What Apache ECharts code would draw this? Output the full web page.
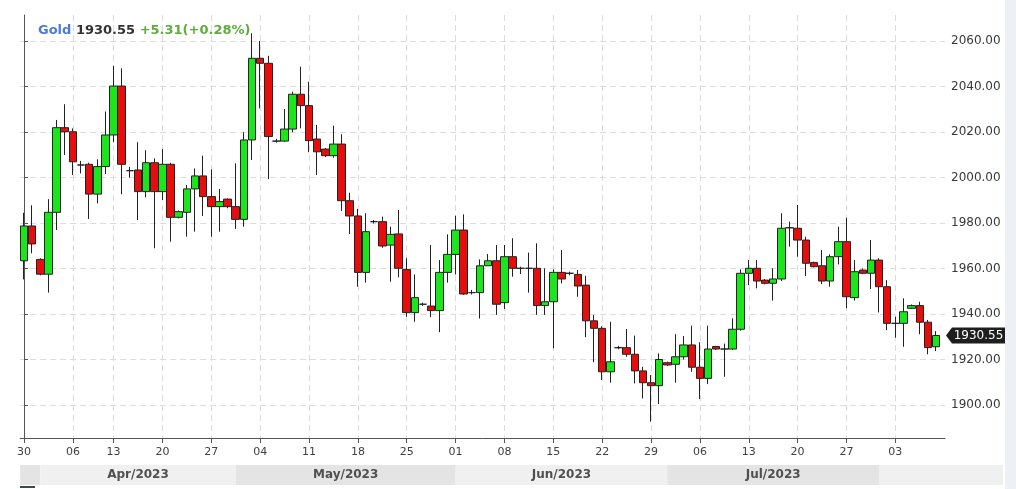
<!DOCTYPE html>
<html><head><meta charset="utf-8">
<script src="https://cdn.jsdelivr.net/npm/echarts@6/dist/echarts.min.js"></script>
<style>html,body{margin:0;padding:0;background:#fff}#c{width:1016px;height:489px}</style>
</head><body><div id="c"></div>
<script>
const symbol = 'Gold';
const dates = [
'2023-03-30','2023-03-31',
'2023-04-02','2023-04-03','2023-04-04','2023-04-05','2023-04-06','2023-04-07',
'2023-04-10','2023-04-11','2023-04-12','2023-04-13','2023-04-14',
'2023-04-16','2023-04-17','2023-04-18','2023-04-19','2023-04-20','2023-04-21',
'2023-04-23','2023-04-24','2023-04-25','2023-04-26','2023-04-27','2023-04-28',
'2023-04-30',
'2023-05-01','2023-05-02','2023-05-03','2023-05-04','2023-05-05',
'2023-05-07','2023-05-08','2023-05-09','2023-05-10','2023-05-11','2023-05-12',
'2023-05-14','2023-05-15','2023-05-16','2023-05-17','2023-05-18','2023-05-19',
'2023-05-21','2023-05-22','2023-05-23','2023-05-24','2023-05-25','2023-05-26',
'2023-05-28','2023-05-29','2023-05-30','2023-05-31',
'2023-06-01','2023-06-02',
'2023-06-04','2023-06-05','2023-06-06','2023-06-07','2023-06-08','2023-06-09',
'2023-06-11','2023-06-12','2023-06-13','2023-06-14','2023-06-15','2023-06-16',
'2023-06-18','2023-06-19','2023-06-20','2023-06-21','2023-06-22','2023-06-23',
'2023-06-25','2023-06-26','2023-06-27','2023-06-28','2023-06-29','2023-06-30',
'2023-07-02','2023-07-03','2023-07-04','2023-07-05','2023-07-06','2023-07-07',
'2023-07-09','2023-07-10','2023-07-11','2023-07-12','2023-07-13','2023-07-14',
'2023-07-16','2023-07-17','2023-07-18','2023-07-19','2023-07-20','2023-07-21',
'2023-07-23','2023-07-24','2023-07-25','2023-07-26','2023-07-27','2023-07-28',
'2023-07-30','2023-07-31',
'2023-08-01','2023-08-02','2023-08-03','2023-08-04',
'2023-08-06','2023-08-07','2023-08-08','2023-08-09'
];
const opens = [
1963.4,1978.7,
1964.0,1957.5,1984.7,2021.9,2020.1,2005.5,
2005.8,1992.7,2004.8,2018.7,2040.2,
2003.0,2003.3,1993.8,2006.5,1993.8,2005.8,
1982.5,1984.7,1995.0,2000.7,1991.6,1987.2,
1990.5,
1987.2,1981.6,2016.5,2052.4,2050.2,
2016.0,2016.0,2021.3,2036.6,2031.6,2016.9,
2012.5,2009.6,2014.7,1989.8,1983.1,1958.3,
1980.6,1980.6,1970.3,1975.2,1959.6,1940.6,
1944.3,1943.5,1941.5,1958.3,
1966.2,1976.9,
1949.4,1949.4,1961.2,1963.4,1945.0,1965.2,
1960.1,1960.1,1960.1,1943.7,1945.4,1958.3,
1957.9,1957.4,1952.7,1937.0,1933.7,1914.6,
1925.2,1925.2,1922.3,1915.0,1909.8,1908.5,
1918.6,1917.9,1921.2,1926.4,1916.6,1911.7,
1925.7,1924.6,1924.6,1933.3,1957.9,1960.1,
1954.9,1953.5,1955.4,1977.9,1977.7,1972.5,
1962.6,1961.2,1954.5,1965.2,1971.8,1947.2,
1959.3,1957.9,
1963.7,1952.0,1935.9,1935.9,
1942.5,1943.7,1936.4,1925.6
];
const closes = [
1978.7,1970.8,
1957.5,1984.7,2021.9,2020.1,2006.9,2005.5,
1992.7,2004.8,2018.7,2040.2,2005.8,
2003.0,1993.8,2006.5,1993.8,2005.8,1982.5,
1985.0,1995.0,2000.7,1991.6,1987.2,1989.4,
1987.2,
1981.6,2016.5,2052.4,2050.2,2018.0,
2016.0,2021.3,2036.6,2031.6,2016.2,2011.3,
2009.6,2014.7,1989.8,1983.1,1958.3,1976.2,
1980.6,1969.9,1975.0,1960.1,1940.6,1947.2,
1944.3,1941.5,1958.3,1966.2,
1976.9,1948.8,
1949.4,1961.2,1963.4,1944.3,1965.2,1960.1,
1960.1,1960.1,1943.7,1945.4,1958.3,1955.4,
1957.9,1952.3,1937.0,1933.7,1914.6,1919.0,
1925.2,1922.3,1915.0,1909.8,1908.5,1920.0,
1917.6,1921.2,1926.4,1916.6,1911.7,1924.6,
1924.6,1924.6,1933.3,1957.9,1960.1,1954.5,
1953.5,1955.4,1977.7,1977.9,1972.5,1962.3,
1960.8,1954.5,1965.2,1971.8,1947.6,1958.6,
1957.9,1963.7,
1952.0,1935.9,1935.9,1941.0,
1943.7,1936.4,1925.24,1930.55
];
const lows = [
1955.2,1966.7,
1957.0,1949.4,1976.9,2009.9,2001.1,2001.8,
1981.8,1988.7,2001.5,2015.5,1992.6,
1999.9,1981.3,1991.3,1968.9,1990.1,1971.8,
1982.0,1974.0,1976.2,1983.1,1974.0,1976.2,
1986.5,
1977.4,1978.4,2007.7,2030.4,1999.3,
2015.3,2015.7,2019.9,2021.6,2011.1,2001.1,
2009.0,2008.7,1985.3,1975.2,1952.0,1953.8,
1979.8,1969.1,1954.2,1956.1,1938.8,1936.6,
1943.6,1938.6,1932.0,1953.8,
1957.4,1948.4,
1948.6,1938.0,1961.2,1939.6,1942.2,1956.4,
1957.6,1949.4,1939.6,1939.6,1924.9,1953.5,
1957.0,1947.6,1929.8,1918.8,1911.0,1909.8,
1924.5,1921.2,1909.5,1902.9,1892.7,1900.4,
1917.2,1909.8,1920.0,1914.6,1902.6,1909.2,
1924.2,1912.4,1924.2,1932.7,1952.7,1951.3,
1953.0,1945.9,1954.5,1969.6,1965.2,1956.7,
1960.5,1953.2,1952.0,1961.8,1942.5,1945.9,
1957.5,1951.0,
1940.7,1932.9,1929.6,1925.6,
1942.2,1931.1,1922.3,1923.7
];
const highs = [
1984.5,1987.8,
1964.5,1990.5,2025.3,2032.2,2021.6,2007.3,
2006.5,2008.0,2029.0,2049.1,2048.0,
2004.7,2015.5,2012.0,2008.4,2012.5,2006.5,
1985.5,1996.7,2004.0,2009.6,2003.6,1995.0,
1990.8,
2006.2,2019.9,2063.4,2060.0,2053.5,
2017.0,2030.1,2037.7,2048.7,2042.1,2023.1,
2013.0,2022.8,2019.0,1993.3,1986.2,1984.3,
1981.3,1982.8,1978.4,1985.7,1964.5,1957.4,
1945.0,1970.3,1963.7,1975.0,
1983.2,1983.8,
1950.6,1964.0,1966.4,1970.3,1970.3,1973.3,
1960.8,1967.0,1971.1,1960.1,1959.6,1968.1,
1958.6,1959.3,1956.8,1939.6,1934.6,1936.6,
1926.0,1933.4,1930.5,1916.8,1913.2,1922.7,
1919.0,1931.1,1930.3,1934.9,1927.6,1934.9,
1926.0,1927.0,1938.1,1959.6,1963.7,1963.7,
1955.4,1960.1,1984.3,1980.6,1987.9,1974.0,
1963.0,1968.1,1966.2,1978.4,1982.3,1963.7,
1960.0,1972.5,
1964.5,1954.9,1938.8,1946.9,
1944.2,1945.4,1937.4,1932.5
];
const priceTicks = [1900,1920,1940,1960,1980,2000,2020,2040,2060];
const monthNames = ['Jan','Feb','Mar','Apr','May','Jun','Jul','Aug','Sep','Oct','Nov','Dec'];

const FONT = 'DejaVu Sans';
const n = dates.length;
const candles = dates.map((d, i) => [i, opens[i], closes[i], lows[i], highs[i]]);
const tickIdx = [];
dates.forEach((d, i) => { if (new Date(d + 'T00:00:00Z').getUTCDay() === 4) tickIdx.push(i); });
const lastClose = closes[n - 1];
const prevClose = closes[n - 2];
const chg = lastClose - prevClose;
const pct = chg / prevClose * 100;
const sign = chg >= 0 ? '+' : '-';

const chart = echarts.init(document.getElementById('c'), null, {renderer: 'canvas'});
const gridLeft = 20.2, gridRight = 71, gridTop = 15, gridBottom = 51;
chart.setOption({
  animation: false,
  backgroundColor: '#ffffff',
  title: {
    left: 33, top: 19,
    text: '{a|' + symbol + '} {b|' + lastClose.toFixed(2) + '} {c|' + sign + Math.abs(chg).toFixed(2) + '(' + sign + Math.abs(pct).toFixed(2) + '%)}',
    textStyle: {
      fontFamily: FONT, fontSize: 13, fontWeight: 'bold',
      rich: {
        a: {color: '#4b7bd6', fontFamily: FONT, fontSize: 13, fontWeight: 'bold'},
        b: {color: '#333333', fontFamily: FONT, fontSize: 13, fontWeight: 'bold'},
        c: {color: '#5cad3c', fontFamily: FONT, fontSize: 13, fontWeight: 'bold'}
      }
    }
  },
  grid: {left: gridLeft, right: gridRight, top: gridTop, bottom: gridBottom},
  xAxis: {
    type: 'value', min: -0.47, max: n + 0.1, scale: true,
    axisLine: {show: true, onZero: false, lineStyle: {color: '#555555', width: 1}},
    axisTick: {show: true, length: 5, customValues: tickIdx, lineStyle: {color: '#555555'}},
    axisLabel: {customValues: tickIdx, formatter: v => dates[Math.round(v)] ? dates[Math.round(v)].slice(8) : '',
      color: '#404040', fontFamily: FONT, fontSize: 11, margin: 9},
    splitLine: {show: true, lineStyle: {color: '#dcdcdc', type: [6, 4], width: 1}}
  },
  yAxis: {
    type: 'value', position: 'right', min: 1885.5, max: 2071.43, scale: true,
    axisLine: {show: true, lineStyle: {color: '#555555', width: 1}},
    axisTick: {show: true, inside: false, length: 4, customValues: priceTicks, lineStyle: {color: '#555555'}},
    axisLabel: {customValues: priceTicks, formatter: v => Number(v).toFixed(2),
      color: '#383838', fontFamily: FONT, fontSize: 12, margin: 6},
    splitLine: {show: true, lineStyle: {color: '#dcdcdc', type: [6, 4], width: 1}}
  },
  series: [{
    type: 'candlestick',
    data: candles,
    barWidth: 8,
    itemStyle: {
      color: '#1be61b', color0: '#e60d0d',
      borderColor: '#222222', borderColor0: '#222222', borderColorDoji: '#222222',
      borderWidth: 1
    }
  }]
});

// month bands + price tag, positioned through the axis scales
const px = i => chart.convertToPixel({xAxisIndex: 0}, i);
const months = [];
dates.forEach((d, i) => {
  const key = d.slice(0, 7);
  if (!months.length || months[months.length - 1].key !== key) months.push({key, start: i, count: 0});
  months[months.length - 1].count++;
});
const graphics = [];
graphics.push({type: 'rect', shape: {x: 1005, y: 0, width: 11, height: 489}, style: {fill: '#edf1f6'}, z: 0});
months.forEach((m, k) => {
  const x0 = k === 0 ? gridLeft : px(m.start);
  const x1 = k < months.length - 1 ? px(months[k + 1].start) : 1003;
  const fill = (k % 2 === 0) ? '#e4e4e4' : '#f0f0f0';
  graphics.push({type: 'rect', shape: {x: x0, y: 465, width: x1 - x0, height: 20}, style: {fill}, z: 1});
  if (m.count >= 10) {
    const mm = parseInt(m.key.slice(5, 7), 10) - 1;
    graphics.push({type: 'text', x: (x0 + x1) / 2, y: 475, z: 2,
      style: {text: monthNames[mm] + '/' + m.key.slice(0, 4), fill: '#505050', font: 'bold 12px "DejaVu Sans"', align: 'center', verticalAlign: 'middle'}});
  }
});
graphics.push({type: 'rect', shape: {x: 20, y: 486, width: 15, height: 2}, style: {fill: '#3d4a4a'}, z: 2});
const ty = chart.convertToPixel({yAxisIndex: 0}, lastClose);
graphics.push({type: 'polygon', z: 5, shape: {points: [[946, ty], [952, ty - 8], [1005, ty - 8], [1005, ty + 8], [952, ty + 8]]}, style: {fill: '#1e1e1e'}});
graphics.push({type: 'text', z: 6, x: 978.5, y: ty + 0.5, style: {text: lastClose.toFixed(2), fill: '#ffffff', font: '12px "DejaVu Sans"', align: 'center', verticalAlign: 'middle'}});
chart.setOption({graphic: graphics});
</script>
</body></html>
